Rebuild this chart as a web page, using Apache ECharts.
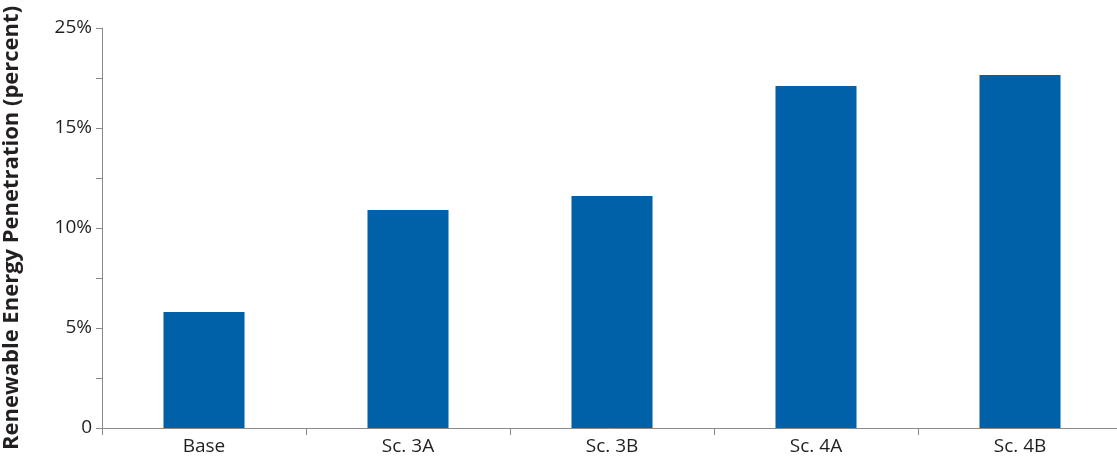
<!DOCTYPE html>
<html>
<head>
<meta charset="utf-8">
<script src="https://cdn.jsdelivr.net/npm/echarts@6/dist/echarts.min.js"></script>
<style>
html,body{margin:0;padding:0;background:#fff;}
#chart{width:1117px;height:459px;}
</style>
</head>
<body>
<div id="chart"></div>
<script>
const categories = ['Base', 'Sc. 3A', 'Sc. 3B', 'Sc. 4A', 'Sc. 4B'];
const values = [5.8, 10.9, 11.6, 17.1, 17.65];
const tickValues = [0, 5, 10, 15, 20];
const tickLabels = ['0', '5%', '10%', '15%', '25%'];

const FONT = 'Open Sans';
const chart = echarts.init(document.getElementById('chart'), null, {renderer: 'canvas'});
chart.setOption({
  animation: false,
  backgroundColor: '#ffffff',
  grid: {left: 102, top: 28, width: 1020, height: 400, containLabel: false, outerBoundsMode: 'none'},
  xAxis: {
    type: 'category',
    data: categories,
    boundaryGap: true,
    axisLine: {show: true, lineStyle: {color: '#8a8a8c', width: 1}},
    axisTick: {show: true, alignWithLabel: false, length: 7, lineStyle: {color: '#8a8a8c'}},
    axisLabel: {color: '#231f20', fontFamily: FONT, fontSize: 19, margin: 9}
  },
  yAxis: {
    type: 'value',
    min: 0,
    max: 20,
    interval: 5,
    name: 'Renewable Energy Penetration (percent)',
    nameLocation: 'middle',
    nameGap: 79,
    nameTextStyle: {color: '#231f20', fontFamily: FONT, fontSize: 22, fontWeight: 'bold'},
    axisLine: {show: true, lineStyle: {color: '#8a8a8c', width: 1}},
    axisTick: {show: true, length: 6, lineStyle: {color: '#8a8a8c'}},
    minorTick: {show: true, splitNumber: 2, length: 6, lineStyle: {color: '#8a8a8c'}},
    splitLine: {show: false},
    axisLabel: {
      color: '#231f20', fontFamily: FONT, fontSize: 19, margin: 10,
      formatter: function (v) {
        const i = tickValues.indexOf(v);
        return i >= 0 ? tickLabels[i] : '';
      }
    }
  },
  series: [{
    type: 'bar',
    data: values,
    barWidth: 81,
    itemStyle: {color: '#0061a8'}
  }]
});
</script>
</body>
</html>
